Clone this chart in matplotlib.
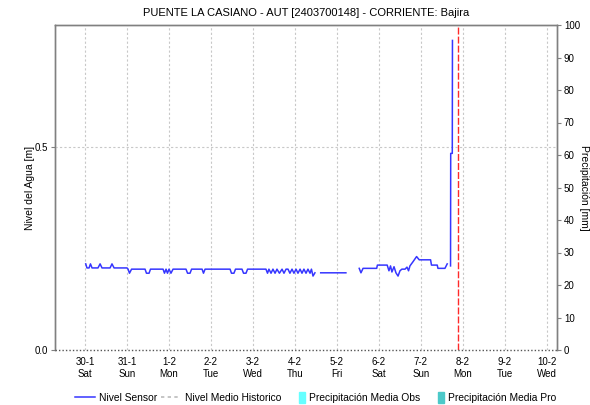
import matplotlib
matplotlib.use("Agg")
import matplotlib.pyplot as plt
from matplotlib.lines import Line2D
from matplotlib.patches import Patch, Rectangle
from matplotlib.legend_handler import HandlerPatch
import numpy as np
import pandas as pd

plt.rcParams['font.family'] = ['Liberation Sans', 'DejaVu Sans']

# sensor readings: hours after 30-1 00:00 and water level [m]
hours = [0.4, 1.1, 2.3, 3.1, 4.0, 7.4, 8.6, 9.7, 14.3, 15.4, 16.6, 24.0,
         24.6, 25.4, 26.6, 34.3, 35.1, 36.6, 37.4, 44.6, 45.4, 46.3, 47.1,
         48.0, 49.1, 50.3, 57.7, 58.6, 60.0, 60.9, 66.9, 67.7, 68.6, 82.9,
         83.7, 85.1, 86.0, 89.7, 90.6, 92.0, 92.9,
         103.4, 104.3, 105.1, 106.3, 107.4, 108.6, 109.7, 111.1, 112.6, 113.7,
         114.9, 116.0, 117.1, 118.3, 119.4, 120.6, 121.7, 122.9, 124.0, 125.1,
         126.3, 127.4, 128.6, 129.4, 130.3, 131.4,
         133.0, 134.7, 149.1, 152.0,
         156.7, 157.7, 158.9, 166.7, 167.1, 172.7, 173.7, 174.6, 175.4, 176.6,
         177.7, 178.9, 180.0, 181.1, 182.9, 184.0, 184.9, 185.7, 187.4, 189.5,
         191.0, 197.5, 198.0, 201.3, 201.7, 205.7, 207.0, 207.9,
         208.9, 209.0, 209.9, 210.0]
nivel = [0.212, 0.202, 0.202, 0.212, 0.202, 0.202, 0.212, 0.202, 0.202, 0.212,
         0.202, 0.202,
         0.199, 0.189, 0.199, 0.199, 0.189, 0.189, 0.199, 0.199, 0.189, 0.199,
         0.189, 0.199, 0.189, 0.199, 0.199, 0.189, 0.189, 0.199, 0.199, 0.189,
         0.199, 0.199, 0.189, 0.189, 0.199, 0.199, 0.189, 0.189, 0.199,
         0.199, 0.189, 0.199, 0.189, 0.199, 0.189, 0.199, 0.189, 0.199, 0.189,
         0.199, 0.199, 0.189, 0.199, 0.189, 0.199, 0.189, 0.199, 0.189, 0.199,
         0.189, 0.199, 0.189, 0.199, 0.182, 0.190,
         np.nan, 0.190, 0.190, np.nan,
         0.201, 0.190, 0.201, 0.201, 0.209, 0.209, 0.195, 0.207, 0.192, 0.205,
         0.190, 0.182, 0.195, 0.199, 0.199, 0.204, 0.195, 0.207, 0.217, 0.230,
         0.222, 0.222, 0.209, 0.209, 0.201, 0.201, 0.212, np.nan,
         0.207, 0.484, 0.484, 0.762]

start = pd.Timestamp("2021-01-30")
tiempo = start + pd.to_timedelta(hours, unit="h")

dias = pd.date_range("2021-01-30", "2021-02-10", freq="D")
dia_labels = ["30-1\nSat", "31-1\nSun", "1-2\nMon", "2-2\nTue", "3-2\nWed",
              "4-2\nThu", "5-2\nFri", "6-2\nSat", "7-2\nSun", "8-2\nMon",
              "9-2\nTue", "10-2\nWed"]

# historical mean level and precipitation (no rain recorded)
hist_t = [pd.Timestamp("2021-01-29 06:50"), pd.Timestamp("2021-02-10 05:45")]
hist_nivel = [0.0, 0.0]
precip_obs = [0.0] * len(dias)
precip_pro = [0.0] * len(dias)

ahora = pd.Timestamp("2021-02-07 21:05")


def narrow_box(legend, orig_handle, xdescent, ydescent, width, height, fontsize):
    # small upright swatch instead of a full-width patch
    return Rectangle((xdescent + width - 0.32 * width, -ydescent - 0.15 * height),
                     0.32 * width, 1.3 * height)


fig = plt.figure(figsize=(5.9, 4.05), dpi=100)
ax = fig.add_axes([55 / 590, 55 / 405, 502 / 590, 325 / 405])
ax2 = ax.twinx()
ax.set_zorder(ax2.get_zorder() + 1)
ax.patch.set_visible(False)

ax2.bar(dias, precip_obs, width=0.3, color="#66ffff", linewidth=0)
ax2.bar(dias, precip_pro, width=0.3, color="#4cc9c9", linewidth=0)

ax.plot(tiempo, nivel, color="#3636ff", lw=1.1, zorder=3)
ax.plot(hist_t, hist_nivel, color="#555555", lw=1.0, ls=(0, (1, 1.5)),
        clip_on=False, zorder=4)
ax.axvline(ahora, color="#ff2a2a", lw=1.0, ls=(0, (5, 1.5)), zorder=2)

ax.set_xlim(hist_t[0], hist_t[1])
ax.set_ylim(0, 0.8)
ax2.set_ylim(0, 100)

ax.set_xticks(dias)
ax.set_xticklabels(dia_labels, fontsize=7)
ax.tick_params(axis="x", length=0, pad=5)
ax.set_yticks([0.0, 0.5])
ax.set_yticklabels(["0.0", "0.5"], fontsize=7)
ax.tick_params(axis="y", length=3, width=0.8, color="#808080", pad=2)
ax2.set_yticks(np.arange(0, 101, 10))
ax2.set_yticklabels([str(v) for v in range(0, 101, 10)], fontsize=7)
ax2.tick_params(axis="y", length=3, width=0.8, color="#808080", pad=2)

ax.grid(True, color="#c8c8c8", ls=(0, (2, 2)), lw=0.8)

for a in (ax, ax2):
    a.spines["bottom"].set_visible(False)
    for s in ("top", "left", "right"):
        a.spines[s].set_color("#808080")
        a.spines[s].set_linewidth(1.0)

ax.set_ylabel("Nivel del Agua [m]", fontsize=7.5, labelpad=0)
fig.text(579 / 590, 0.537, "Precipitación [mm]", rotation=270, fontsize=7.5,
         ha="left", va="center")

ax.set_title("PUENTE LA CASIANO - AUT [2403700148] - CORRIENTE: Bajira",
             fontsize=8, pad=6.5)

handles = [Line2D([], [], color="#3636ff", lw=1.1),
           Line2D([], [], color="#bbbbbb", lw=1.2, ls=(0, (2, 2))),
           Patch(color="#66ffff"),
           Patch(color="#4cc9c9")]
labels = ["Nivel Sensor", "Nivel Medio Historico", "Precipitación Media Obs",
          "Precipitación Media Pro"]
fig.legend(handles, labels, loc="lower center", bbox_to_anchor=(0.535, -0.018),
           ncol=4, frameon=False, fontsize=7.4, handlelength=1.9,
           handleheight=0.9, handletextpad=0.35, columnspacing=0.45,
           handler_map={Patch: HandlerPatch(patch_func=narrow_box)})

fig.savefig("out.png", dpi=100)
